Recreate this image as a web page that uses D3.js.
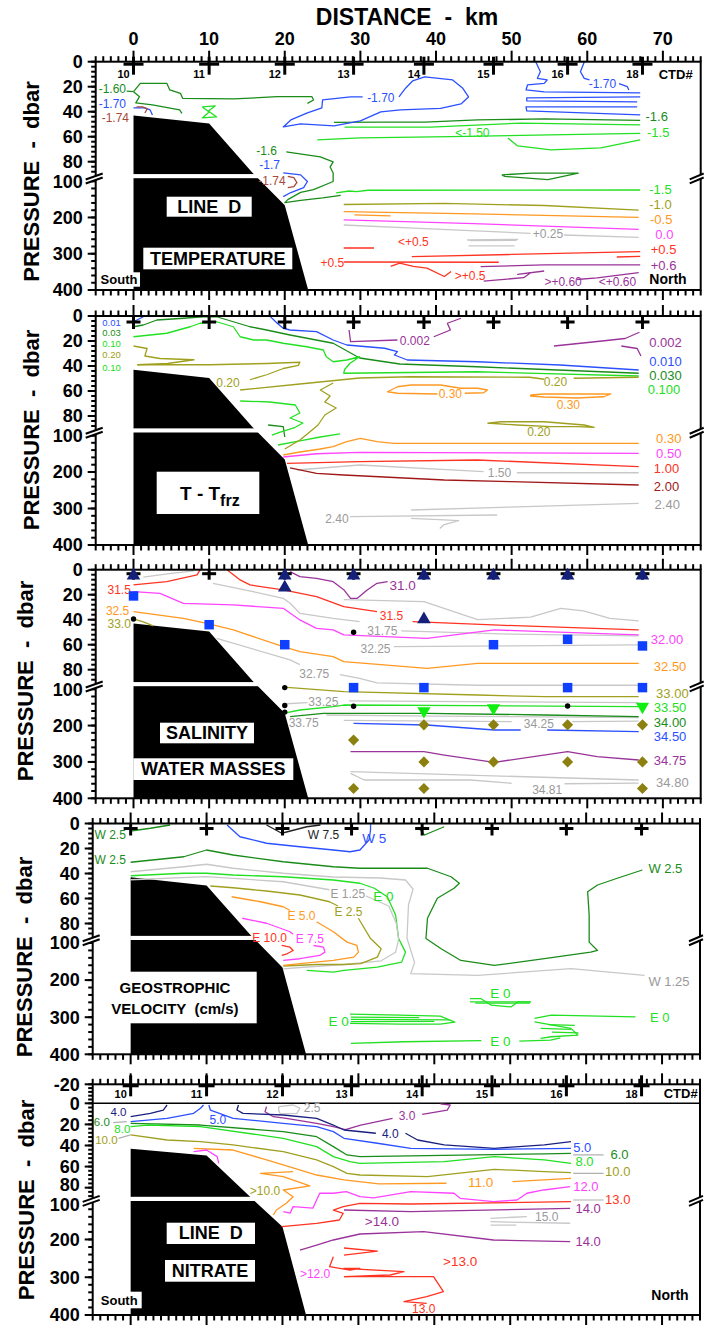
<!DOCTYPE html>
<html><head><meta charset="utf-8">
<script src="https://cdn.jsdelivr.net/npm/d3@7"></script>
<style>
html,body{margin:0;padding:0;background:#fff;}
svg{display:block;font-family:"Liberation Sans",Arial,Helvetica,sans-serif;}
</style></head><body>
<svg id="chart" width="704" height="1326"></svg>
<script>
// ================= DATA =================
const xTicks = [0,10,20,30,40,50,60,70];
const pTicks = [0,20,40,60,80,100,200,300,400];
const pTicksNitrate = [-20,0,20,40,60,80,100,200,300,400];
const stationKm = [0,10,20,29.1,38.4,47.6,57.4,67.3];
const stationIds = ["10","11","12","13","14","15","16","18"];
const terrain = [[0,43],[10,49.5],[15.7,89],[20,166],[23.1,400]];

// ---- Panel 1: temperature ----
const tempLevels = [-1.74,-1.70,-1.60,-1.50,-1.0,-0.5,0.0,0.25,0.5,0.6];
const tempLines = [
 [-1.60,[[-0.9,23.5],[0,24]]],
 [-1.60,[[0,24],[0.9,17.3],[4.4,17.3],[4.8,22.6],[6.2,25.3],[6.5,29.3],[13.2,29.8],[19,28],[23.6,28],[23.8,30.6],[23,33.3]]],
 [-1.60,[[0,24],[0.8,28],[0.3,33],[2.5,34.5],[6.1,38.6],[6.4,41.3]]],
 [-1.60,[[26.5,48.6],[32.7,48.4],[38.5,48.4],[45.5,46.6],[54.4,45.8],[67,47]]],
 [-1.60,[[20.2,72.2],[24.7,76.2],[26.4,80.2],[26,84.2],[26.4,89.6],[26.4,100.8],[23.8,123],[22.1,131],[20.4,150.7],[20,159],[22.1,153],[25,146],[27.4,139]]],
 [-1.60,[[48.7,92],[52.6,89.9],[58.8,89.9],[54.8,98],[49.1,94],[48.7,92]]],
 [-1.50,[[9.1,36.2],[10.8,35.4],[9.9,39.4],[11,44.2],[9.1,45],[10,40.2],[9.1,36.2]]],
 [-1.50,[[27.9,52.3],[39.3,52.3],[51.2,49.1],[67,50.6]]],
 [-1.50,[[24.3,62.6],[30,61],[41.9,60],[55,58.5],[67,57.3]]],
 [-1.50,[[49.5,61],[50.8,67.4],[55.2,70.6],[61.8,69],[67,62.6]]],
 [-1.50,[[26.8,132],[28.5,127],[29.5,129],[31,125],[67,124.3]]],
 [-1.70,[[35.1,28.2],[36,21],[36.9,15.4],[38.5,12.2],[42.2,14.6],[43.5,21],[44.3,28.2],[43.3,33.8],[40.6,37.3],[35.3,38.6],[32.7,40.2],[30,47.4],[26.5,51.4],[22.1,49.8],[19.8,52.2],[20.8,46.6],[23,41],[24.9,37],[25,30.6],[28.7,28.2],[30.3,28.2]]],
 [-1.70,[[53.2,0.2],[53.8,8],[53.4,13.3],[54.7,14.6],[54.3,17.3],[52.1,18.6],[51.9,22.6],[54.3,24.2],[67,25]]],
 [-1.70,[[67,28.2],[52,29],[52,31.4],[66.6,32.2]]],
 [-1.70,[[66.6,36.2],[51.9,36.2],[52,39.4],[67,42.6]]],
 [-1.70,[[59.6,0.2],[59.1,8],[59.6,13.3],[60.3,14.6]]],
 [-1.70,[[64.2,17.5],[65.3,20],[65.5,22.6]]],
 [-1.70,[[0,37],[1.5,37],[2.2,38.6],[2.5,42.6]]],
 [-1.70,[[19.8,89.6],[22.1,92],[23,100.8],[22.5,117.5],[20.8,131.3],[19.8,142.4]]],
 [-1.74,[[0.4,36.2],[1.2,36.2],[1.8,37.8],[1.5,41]]],
 [-1.74,[[20.4,94],[21.2,95.6],[21.6,103.6],[21.2,114.7],[20.4,117.5]]],
 [-1.0,[[27.8,164.2],[41.1,161.4],[54.3,167],[66.8,179.9]]],
 [-0.5,[[27.8,184.1],[45,190],[66.8,199.5]]],
 [-0.5,[[29.2,193.1],[34,195.8]]],
 [0.0,[[27.8,206.9],[45,217],[66.8,232.6]]],
 [0.25,[[27.8,220.8],[40,232],[52.5,243.6]]],
 [0.25,[[56.9,248.3],[66.8,254.7]]],
 [0.25,[[44.1,262.1],[50.8,260.2],[50.5,263],[44.5,264]]],
 [0.25,[[44.3,278.6],[50.4,278.6]]],
 [0.5,[[27.8,284.2],[31.8,284.2]]],
 [0.5,[[36.8,308.2],[50,302],[67,294.4]]],
 [0.5,[[63.9,309],[67,307.5]]],
 [0.5,[[27.8,322.8],[48.3,323.5]]],
 [0.5,[[34,335],[35.2,326],[37,335],[38.8,339.6],[41.1,362.7],[42,349]]],
 [0.6,[[45.9,335.6],[54.3,330.9],[67,330.9]]],
 [0.6,[[46.3,375.3],[51.6,366],[52.5,352.3],[50.8,356.8],[54.3,347.6]]],
 [0.6,[[58.6,371],[61.3,366.3],[66.8,352.3]]]
];
const tempLabels = [
 ["-1.60",-1.60,-2.8,22],["-1.70",-1.70,-2.8,33.8],["-1.74",-1.74,-2.4,45],
 ["-1.6",-1.60,17.6,71],["-1.7",-1.70,18,82.6],["-1.74",-1.74,18.3,99],
 ["-1.70",-1.70,32.7,29.2],["-1.70",-1.70,62,17.9],["<-1.50",-1.50,44.8,56.8],
 ["+0.25",0.25,54.8,245],["<+0.5",0.5,37,266.8],["+0.5",0.5,26.3,324],[">+0.5",0.5,44.5,361],
 [">+0.60",0.6,56.8,378],["<+0.60",0.6,64,378]
];
const tempEndLabels = [
 ["-1.6",-1.60,67.7,44],["-1.5",-1.50,67.9,56.5],["-1.5",-1.50,68.2,121.5],["-1.0",-1.0,68.2,162.9],
 ["-0.5",-0.5,68.3,204.2],["0.0",0.0,69,245.5],["+0.5",0.5,68.4,286.9],["+0.6",0.6,68.4,331]
];

// ---- Panel 2: T - Tfrz ----
const tfrzLevels = [0.002,0.01,0.03,0.10,0.20,0.30,0.50,1.00,1.50,2.00,2.40];
const tfrzLines = [
 [0.01,[[0,4.6],[1.3,0.6]]],
 [0.01,[[18.1,0.5],[19,5.8],[19.8,9.8],[20.7,11.2],[24.2,12.5],[26.4,19.2],[28.2,23.2],[33.2,25.8],[34.9,28.5],[34.5,31.2],[36.2,35.2],[45.5,36.6],[56.4,39.2],[66.8,43.2]]],
 [0.002,[[28.5,11.2],[28.7,20.5],[34.9,19.2]]],
 [0.002,[[39.7,16.6],[41.9,11.2],[41.5,5.8],[43.3,1.8]]],
 [0.002,[[55.6,24],[60.4,21],[65,18],[66.9,13]]],
 [0.002,[[64.5,24],[66.6,26],[67.1,32]]],
 [0.03,[[0,8.6],[1.3,7.2],[3.1,3.2],[6.6,1.8],[9.2,0.6],[11,0.6],[13.2,4.6],[15.4,8.6],[17.6,11.2],[20.7,15.2],[26.4,21.8],[29.9,33.6],[35.2,38.4],[45.4,40.6],[66.8,45.8]]],
 [0.03,[[17.8,87.2],[19.8,88.8],[20,104.1]]],
 [0.10,[[0,16.6],[4.4,13.8],[7.5,8.6],[8.8,5.8],[11,4.6],[13.2,8.6],[14.1,16.6],[15.9,19.2],[17.6,19.2],[19.8,21.8],[22.9,24.6],[25.1,27.2],[25.5,32.6],[26.4,36.6],[28.2,35.2],[29.9,32.6],[28.6,38],[27.9,43],[27.8,45.8],[45.4,44.6],[66.8,48]]],
 [0.10,[[14.1,68],[18,68.8],[21.4,71.2],[22,77.6],[20.7,81.6],[22.4,85.6],[21.4,89.6],[19.4,95.6],[18.3,99.4]]],
 [0.10,[[19.1,126],[22,115],[24.7,104.1],[27.3,98]]],
 [0.20,[[0,24],[1.8,26],[1.5,32],[3.5,34],[8,35],[4.5,38],[0.5,39]]],
 [0.20,[[0.5,39],[10,39],[17.6,38],[22,37],[21.8,39.5],[19.8,42],[17.6,47],[15.4,51]]],
 [0.20,[[14.1,59.2],[22,54.4],[29.9,49.6],[36.6,48.6],[52.4,49],[54.3,50.6]]],
 [0.20,[[58.2,49.8],[66.8,49]]],
 [0.20,[[26.4,53.6],[24.7,59.2],[26,64],[25.3,68.8],[26.8,73.6],[25.3,79.2],[24.4,87.2],[23.3,95.6],[22,112.3],[20,137]]],
 [0.20,[[46.8,85.8],[48.6,84.6],[54.3,84.6],[59.6,87.2],[60.9,89.6],[58.7,88.9],[55.2,88.9],[50.7,87.2],[47.2,85.8]]],
 [0.30,[[40.2,62.4],[34.9,61.8],[33.6,60.6],[34.9,56.6],[36.7,55.2],[40.6,55.2],[43.3,57.8],[45.5,57.8],[46.8,59.2],[46.3,61.4],[43.8,61.8]]],
 [0.30,[[52.5,63.2],[54.3,62.4],[63.1,62.4],[62.2,64.6],[58.6,65.6],[54.3,64.8],[52.5,64],[52.5,63.2]]],
 [0.30,[[19.8,153.4],[22,145.2],[24.7,137],[26.4,130.7],[28.2,117],[30,107.7],[32.2,117],[34.4,121.4],[66.8,121.4]]],
 [0.50,[[19.8,158.9],[24.2,150],[29.9,146],[66.8,148.8]]],
 [1.00,[[20.3,176.2],[29.9,171.8],[45.5,167.1],[66.8,185.5]]],
 [1.50,[[21.6,194.5],[29.9,180.8],[46.3,199.2]]],
 [1.50,[[50.7,202],[66.8,202]]],
 [2.00,[[20.7,189],[24.2,203.6],[27.8,208.2],[41.1,221.9],[49.9,226.6],[66.8,235.6]]],
 [2.40,[[28.6,322.5],[48.1,317.8]]],
 [2.40,[[36.7,304.1],[66.8,285.8]]],
 [2.40,[[36.7,327],[41.1,331],[43,333],[41,345],[40.5,355]]]
];
const tfrzLabels = [
 ["0.01",0.01,-2.9,5],["0.03",0.03,-2.9,13.6],["0.10",0.10,-2.9,22.2],["0.20",0.20,-2.9,30.8],["0.10",0.10,-2.9,41],
 ["0.20",0.20,12.5,53.8],["0.002",0.002,37.2,19.5],["0.30",0.30,41.9,62.4],["0.30",0.30,57.5,71.2],
 ["0.20",0.20,55.8,52.6],["0.20",0.20,53.6,95.2],["1.50",1.50,48.4,202],["2.40",2.40,26.9,326.9]
];
const tfrzEndLabels = [
 ["0.002",0.002,68.2,20.8],["0.010",0.01,68.2,36],["0.030",0.03,68.2,47.2],["0.100",0.10,68,58.8],
 ["0.30",0.30,69.1,107.7],["0.50",0.50,69.1,148.8],["1.00",1.00,68.8,189.9],["2.00",2.00,68.8,240.3],["2.40",2.40,68.9,288.5]
];

// ---- Panel 3: salinity & water masses ----
const salLevels = [31.0,31.25,31.5,31.75,32.0,32.25,32.5,32.75,33.0,33.25,33.5,33.75,34.0,34.25,34.5,34.75,34.8,34.81];
const salLines = [
 [31.0,[[20.7,1.6],[22,5.6],[24.2,6.9],[26.4,9.6],[27.8,16],[28.7,22.9],[29.6,22.9],[30.9,16.2],[32.2,10.9],[33.6,9.6]]],
 [31.25,[[27.8,24],[38.4,25.6],[45.5,40],[52.5,38],[56.5,31],[59.5,33],[63,39],[66.8,41]]],
 [31.25,[[10.5,10.9],[15.8,17.6],[19.8,22.9],[20.7,26.9],[22,34.9],[26.4,38.9],[29.9,41.6]]],
 [31.25,[[1.3,6],[5,3],[8,1]]],
 [31.5,[[0,12.2],[4.4,9.6],[8.4,4.2],[8.8,0.2]]],
 [31.5,[[12.4,0.2],[14.1,8.2],[15.4,12.2],[19.8,16.2],[24.2,21.6],[27.8,29.6],[32.2,33.6]]],
 [31.5,[[36.9,41.6],[47.5,44.2],[66.8,48.2]]],
 [31.75,[[35.4,49],[50,51.5],[66.8,53]]],
 [32.0,[[0,17.6],[3.5,18.9],[6.6,26.9],[13.2,28.2],[19.8,30.9],[22,40.2],[24.2,46.9],[26.4,48.2],[27.8,52.2],[38.8,54.9],[47.7,48.2],[66.8,52.2]]],
 [32.25,[[34.4,61.6],[50,61],[66.8,60.2]]],
 [32.5,[[0,33.6],[6.6,38.9],[9.7,42.9],[13.2,48.2],[19.8,61.6],[22,65.6],[26.4,69.6],[27.8,73.6],[38.8,78.9],[45.5,74.9],[66.8,74.9]]],
 [32.75,[[11,54.9],[20.7,72.2],[22,76]]],
 [32.75,[[27.3,84],[29.9,86.9],[32.2,92],[45.5,95],[66.8,95]]],
 [33.0,[[0,39.4],[1.3,41.8],[2.6,45]]],
 [33.0,[[20.3,97.6],[27.8,106.9],[45.5,116],[54.3,120.6],[66.8,120.6]]],
 [33.25,[[20.2,140],[23,137]]],
 [33.25,[[28.5,132],[66.8,137]]],
 [33.5,[[19.8,166.3],[22,157.2],[26.4,148.1],[27.8,143.5],[45,145],[66.8,148.1]]],
 [33.75,[[25.5,171],[40,174],[66.8,178]]],
 [34.0,[[20.7,175.6],[25.1,166.3],[27.8,166.3],[38.8,166.3],[54.3,170.9],[66.8,175.6]]],
 [34.25,[[27.8,186],[50,189]]],
 [34.25,[[58,189],[66.8,188]]],
 [34.5,[[29.1,193.8],[38.8,198.5],[47.7,212.2],[51.2,212.2]]],
 [34.5,[[54.7,212.2],[66.8,216.9]]],
 [34.75,[[28.7,271.9],[38.4,271.9],[41.1,281],[47.7,301],[57.4,271.9],[61.3,285.6],[66.8,294.7]]],
 [34.8,[[28.7,326.9],[66.8,349.7]]],
 [34.81,[[28.7,331.3],[30.5,349.7],[44.6,349.7],[50,358.8]]],
 [34.81,[[57,360],[66.8,358]]]
];
const salLabels = [
 ["31.5",31.5,-1.9,15.7],["32.5",32.5,-2.1,33],["33.0",33.0,-1.9,42.9],
 ["31.0",31.0,35.6,12.2],["31.5",31.5,34.1,36.5],["31.75",31.75,32.9,48.6],["32.25",32.25,32,63.4],
 ["32.75",32.75,23.9,83.4],["33.25",33.25,25.1,134.4],["33.75",33.75,22.5,192.1],["34.25",34.25,53.6,193.8],["34.81",34.81,54.7,376.7]
];
const salEndLabels = [
 ["32.00",32.0,68.4,55.7],["32.50",32.5,68.8,77.6],["33.00",33.0,69.1,110.5],["33.50",33.5,68.8,150.4],
 ["34.00",34.0,68.8,190.3],["34.50",34.5,68.8,230.1],["34.75",34.75,68.8,296.6],["34.80",34.8,69.1,357]
];
const salTriTop = [[0,4],[20,4],[29.1,4],[38.4,4],[47.6,4],[57.4,4],[67.3,4],[20,13.6],[38.4,38.9]];
const salSquares = [[0,21],[10,44],[20,60],[47.6,60],[57.4,55.7],[67.3,61],[29.1,98],[38.4,98],[57.4,98],[67.3,98]];
const salTriDown = [[38.4,160],[47.6,152],[67.3,148]];
const salDots = [[0,39.4],[20,98],[20,145],[20,163],[29.1,50],[29.1,147],[57.4,146]];
const salDiamonds = [[29.1,240],[29.1,373],[38.4,198],[38.4,300],[38.4,373],[47.6,198],[47.6,300],[57.4,198],[57.4,300],[67.3,198],[67.3,300],[67.3,373]];

// ---- Panel 4: geostrophic velocity (W negative, E positive) ----
const velLevels = [-7.5,-5,-2.5,-1.25,0,1.25,2.5,5,7.5,10];
const velLines = [
 [-2.5,[[0,6],[2.6,3.8],[5.2,1.2]]],
 [-2.5,[[0,31],[7,26.6],[10,21.2],[13.5,25.2],[20.1,30.6],[26.7,34.6],[30.2,35.8],[39.1,35.8],[42.2,42.6],[43.3,47.8],[42.6,51.8],[40.4,59.8],[39.1,75.8],[38.9,94.4],[40.9,115.6],[43.5,147],[47.9,160.4],[54.5,142.4],[60.6,124.7],[61.5,120.1],[60.4,98.9],[60.4,73.2],[60.2,54.6],[61.5,49.2],[64.1,43.8],[67.4,37.2]]],
 [-2.5,[[38,3.8],[38.7,9.2],[41.3,2.6]]],
 [-1.25,[[0,38.6],[7,34.6],[10,32.6],[13.5,35.8],[20.1,39.8],[26.7,42.8],[32.9,43.6],[36.2,45.2],[37.2,52.4],[36.6,65.2],[36.4,94],[37.4,152.3],[36.9,182.6],[45.7,187.2],[58,169.2],[67.7,187.2]]],
 [0,[[0,41.8],[7,39.8],[10,39.8],[13.5,41.2],[20.1,42.6],[26.7,45.2],[30.2,47.8],[32.1,51.8],[33.8,58.6],[34.9,73.2],[35.3,94.4],[36.2,124.7],[35.7,151.5],[32.5,164.9],[28.1,173.8],[26.7,178.3],[23.2,173.8]]],
 [1.25,[[0,45],[10,42.5],[20.1,46.6],[26.2,53]]],
 [1.25,[[31,58],[34,66],[35,80],[35.3,95],[34.9,125],[33,148],[28.1,158],[22.3,166],[20.1,170]]],
 [2.5,[[10.5,50],[13.5,51.4],[17.9,54],[22.3,57.2],[26.2,62.6],[27.3,66]]],
 [2.5,[[30,75.8],[31.6,94.4],[33,115.6],[32.5,138.1],[30.3,155.8],[28.1,158],[24.5,158],[20.1,162]]],
 [5,[[13.3,58.6],[17.1,62.6],[20.1,66.6],[21,69.6]]],
 [5,[[24.5,78.6],[26.7,86.6],[28.5,98.9],[29.8,106.7],[30,124.7],[29.4,138.1],[26.7,147],[22.3,155.8],[20.1,160.4]]],
 [7.5,[[14.7,75.8],[17.9,79.8],[21,86.6],[21.4,89]]],
 [7.5,[[24.1,106.7],[25.4,111.3],[25.6,124.7],[24.9,133.5],[22.3,142.4],[20.1,147]]],
 [10,[[19.9,106.7],[21,111.3],[21.4,120.1],[20.6,129],[19.9,133.5]]],
 [-5,[[12.7,1.2],[14.4,10.6],[17.9,15.8],[22.3,18.6],[26.7,21.2],[28.9,22.6],[30.2,21.2],[31.4,13.2],[31.6,5.2],[31.6,0.5]]],
 [-7.5,[[17.9,1.2],[19.9,7.8],[23.2,2.6],[25,1.2]]],
 [0,[[44.7,250],[46.1,249.7],[47.5,267.7],[50.1,272.3],[51,258.8],[52.7,258.8]]],
 [0,[[44.7,258.8],[52.7,258.8]]],[0,[[45.4,262.3],[52.6,262.3]]],
 [0,[[28.9,291.8],[35.5,294.5],[40.8,297.2],[42.7,313.3],[40.8,318.7],[35.5,318.7],[28.9,316.8]]],
 [0,[[29,300],[38,301]]],[0,[[29,306],[42,307]]],[0,[[29,312],[40,311]]],
 [0,[[29,370.4],[36,366.2],[46.2,363]]],
 [0,[[51.2,364.3],[55.3,361.6],[56.6,356]]],
 [0,[[53.2,303.4],[55.4,294.5],[66.5,299.1]]],
 [0,[[53.2,312.5],[58,330.2],[58.9,348.2],[55.4,352.7],[54,357]]],
 [0,[[55,320],[58.5,322]]],[0,[[54,330],[58,333]]],[0,[[55.5,340],[59,342]]]
];
const velLabels = [
 ["W 2.5",-2.5,-2.7,9.2],["W 2.5",-2.5,-2.7,29.2],["W 7.5",-7.5,25.4,9],["W 5",-5,32.1,11.8],
 ["E 1.25",1.25,28.6,56.6],["E 2.5",2.5,28.7,70.6],["E 0",0,33.3,58.6],["E 5.0",5,22.5,73.8],
 ["E 7.5",7.5,23.6,94.1],["E 10.0",10,18.3,93.4],
 ["E 0",0,48.7,235.6],["E 0",0,27.4,310.2],["E 0",0,48.7,366]
];
const velEndLabels = [["W 2.5",-2.5,68.2,35.8],["W 1.25",-1.25,68.2,202.5],["E 0",0,68.4,300.2]];

// ---- Panel 5: nitrate ----
const nitLevels = [2.5,3,4,5,6,8,10,11,12,13,14,15];
const nitLines = [
 [2.5,[[19.5,3.2],[21.4,1.6],[22.3,4.7],[21.9,9.5],[19.7,10.1],[19.5,6.4],[19.5,3.2]]],
 [3,[[17.9,3.2],[17.7,8],[18.8,12.7],[20.5,14.2],[24.5,19],[26.7,22.2],[28.3,25],[30.3,20.6],[32.5,17.4],[34.5,14.2]]],
 [3,[[38.4,10.5],[41.7,6.4],[42.1,1.6],[40.8,0.5]]],
 [4,[[0,12.7],[2.6,9.5],[4.3,6.4],[4.8,1.6]]],
 [4,[[14.2,1.6],[14,6.4],[14.8,9.5],[20.1,11.1],[24.5,14.2],[26.7,20.6],[28.1,25.3],[32.3,28.4]]],
 [4,[[36.2,28.4],[37.8,34.8],[41.3,39.5],[47.9,42.7],[54.5,39.5],[58,36.4]]],
 [5,[[0,17.4],[4.8,14.2],[8.3,9.5],[9.2,4.7],[9.6,1.6]]],
 [5,[[10.3,1.6],[10.5,6.4],[13.5,14.2],[20.1,19],[24.5,22.2],[26.7,26.9],[28.1,33.2],[32.5,37.9],[36.9,42.7],[47.9,43.6],[58,42.7]]],
 [6,[[0,19],[9.2,20.6],[20.1,26.9],[24.5,31.7],[26.7,41.1],[28.5,49],[30.2,50.6],[54.5,48],[58,47.4]]],
 [8,[[0,22.2],[2.2,20.6],[9.2,22.2],[20.1,33.2],[24.5,41.1],[26.7,50.6],[28.9,55.4],[30.2,56.9],[41.3,55.4],[47.9,50.6],[54.5,53.7],[58,56.9]]],
 [10,[[0,30],[4.8,34.8],[9.2,36.4],[13.5,39.5],[20.1,45.9],[24.5,53.7],[26.7,60.1],[28.5,66.4],[30.2,68],[39.1,69.6],[47.9,62.6],[54.5,64.8],[58,65.8]]],
 [11,[[8.3,42.7],[13.5,44.3],[17.9,53.7],[20.1,58.5],[24.5,68],[28.1,72.7],[32.7,76.5],[41.6,75.8]]],
 [11,[[50.3,74.3],[58,71.1]]],
 [11,[[21.4,64.8],[17.1,66.4],[20.1,69.6],[23.6,78.4],[20.1,82.2],[21.4,89.3],[20.5,104.2],[19.2,122],[18.8,135.2]]],
 [12,[[8.3,45.9],[10,44.3],[11.4,50.6],[11.6,56.9]]],
 [12,[[20.1,126.2],[21,130.4],[21.4,113],[24,117.2],[24.9,85.3],[26.7,85.3],[28.4,83.8],[30.2,89.3],[32,92],[36.9,83.8],[42.6,85.3],[43.4,92.7],[47.8,100],[50.9,96.4],[52.2,85.3],[54.4,82.2],[57.9,79.1]]],
 [13,[[19.9,166.2],[24.5,157.2],[27.5,148.5],[28,130.7],[26.7,122],[28,113.3],[30.2,104.2],[36.9,106.1],[58,100]]],
 [14,[[28.1,122],[36.9,126.5],[57.9,117.5]]],
 [14,[[22.3,227.9],[24.5,214.7],[26.7,201.4],[30.2,185.5],[38.6,179.4],[47.8,201.4],[57.9,205.9]]],
 [15,[[47.4,143.9],[52.2,139.6]]],
 [15,[[47.4,152.9],[57.9,157.1]]],
 [15,[[47.4,161.8],[50.8,161.8]]],
 [13,[[28.1,222.6],[32.5,230.6],[28.1,241.2]]],
 [13,[[26.7,245.6],[26.2,272.1],[28.9,280.9],[30.2,276.4],[28.1,276.4],[36,285.4],[34.2,294.1],[28.1,298.6]]],
 [13,[[28.1,298.6],[39.9,298.6],[41.2,338.3],[39,351.6],[36,364.8],[39,369]]]
];
const nitLeaders = [[[-2.3,18.4],[-0.5,17.4]],[[-1.6,33.2],[0,30]],[[58.3,49],[62.3,49]],[[58.3,66.4],[62.3,66.4]],[[58.3,96.4],[62.3,96.4]]];
const nitLabels = [
 ["4.0",4,-1.6,8.5],["6.0",6,-3.8,17.4],["8.0",8,-1.1,23.9],["10.0",10,-3.2,34.8],["5.0",5,11.5,15.2],
 [">10.0",10,17.7,82.8],["4.0",4,34.2,29.1],["3.0",3,36.4,12],["2.5",2.5,23.9,4.5],["11.0",11,46.1,75.3],
 ["15.0",15,54.8,141.3],[">14.0",14,33.1,151.1],[">13.0",13,43.4,258.9],["13.0",13,38.6,382.3],[">12.0",12,24.3,289.6]
];
const nitEndLabels = [
 ["5.0",5,58.3,41.7],["6.0",6,63.2,48.3],["8.0",8,58.6,55.4],["10.0",10,62.5,64.8],
 ["12.0",12,58.3,79],["13.0",13,62.5,94.9],["14.0",14,58.6,117.5],["14.0",14,58.6,204]
];

// ================= STYLE / LAYOUT =================
const COL = {dg:"#1a8c1a", lg:"#22e022", bl:"#2b50ff", nv:"#1a2080", br:"#a8483a", ol:"#a0a020", or:"#ff9922",
  mg:"#ff44ff", gy:"#c8c8c8", rd:"#ff3322", dr:"#a01818", pu:"#993399", bk:"#222222"};
const tempPalette = [COL.br,COL.bl,COL.dg,COL.lg,COL.ol,COL.or,COL.mg,COL.gy,COL.rd,COL.pu];
const tfrzPalette = [COL.pu,COL.bl,COL.dg,COL.lg,COL.ol,COL.or,COL.mg,COL.rd,COL.gy,COL.dr,COL.gy];
const salPalette = [COL.pu,COL.gy,COL.rd,COL.gy,COL.mg,COL.gy,COL.or,COL.gy,COL.ol,COL.gy,COL.lg,COL.gy,COL.dg,COL.gy,COL.bl,COL.pu,COL.gy,COL.gy];
const velPalette = [COL.bk,COL.bl,COL.dg,COL.gy,COL.lg,COL.gy,COL.ol,COL.or,COL.mg,COL.rd];
const nitPalette = [COL.gy,COL.pu,COL.nv,COL.bl,COL.dg,COL.lg,COL.ol,COL.or,COL.mg,COL.rd,COL.pu,COL.gy];

const layouts = [
 {top:61.7, h:228.3, left:95.7, right:700.7, ext:false, cross:{hy:2.5,hw:10,v0:-5,v1:13}, pl:{x:31.5,y:181.5}, leftSize:12},
 {top:316, h:229, left:95.7, right:700.7, ext:false, cross:{hy:6,hw:7,v0:0,v1:13}, pl:{x:31,y:430}, leftSize:9.5},
 {top:569.7, h:228.6, left:95.7, right:700.7, ext:false, cross:{hy:4,hw:7,v0:0,v1:10}, pl:{x:25.5,y:681}, leftSize:12},
 {top:823.5, h:230.8, left:92.7, right:700, ext:false, cross:{hy:5,hw:7,v0:0,v1:12}, pl:{x:24.5,y:957}, leftSize:12},
 {top:1084.3, h:230.7, left:92.7, right:700, ext:true, cross:{hy:1.5,hw:8,v0:-9,v1:12}, pl:{x:26,y:1200}, leftSize:11.5}
];
const bigInline = new Set(["2|31.0","3|W 5","3|E 0","4|>14.0","4|>13.0","4|11.0"]);

const svg = d3.select("#chart");
svg.append("rect").attr("width",704).attr("height",1326).attr("fill","#fff");

function scalesFor(L){
  const x = d3.scaleLinear().domain([-5,75]).range([L.left,L.right]);
  const y = L.ext
    ? d3.scaleLinear().domain([-20,0,88,100,400]).range([L.top,L.top+19,L.top+111.8,L.top+117.4,L.top+L.h])
    : d3.scaleLinear().domain([0,88,100,400]).range([L.top,L.top+110,L.top+119.5,L.top+L.h]);
  return {x,y};
}

function textAt(g, t, x, y, o){
  return g.append("text").attr("x",x).attr("y",y).attr("dy","0.35em")
    .attr("text-anchor",o.anchor||"middle").attr("font-size",o.size||12)
    .attr("font-weight",o.bold?"bold":"normal").attr("fill",o.fill||"#000").text(t);
}

function drawPanel(i, levels, palette, lines, labels, endLabels){
  const L = layouts[i];
  const {x,y} = scalesFor(L);
  const color = d3.scaleOrdinal().domain(levels).range(palette);
  const lblColor = v => { const c = color(v); return c===COL.gy ? "#9a9a9a" : c; };
  const g = svg.append("g");
  const clipId = "clip"+i;
  svg.append("clipPath").attr("id",clipId).append("rect")
    .attr("x",L.left).attr("y",L.top).attr("width",L.right-L.left).attr("height",L.h);
  const line = d3.line().x(d=>x(d[0])).y(d=>y(d[1]));

  g.append("path").attr("d", line(terrain.concat([[0,400]]))+"Z").attr("fill","#000");
  const b0 = L.ext?89.5:91, b1 = L.ext?98.5:96.2;
  g.append("rect").attr("x",x(0)-0.5).attr("y",y(b0)).attr("width",x(16.6)-x(0)+0.5)
    .attr("height",y(b1)-y(b0)).attr("fill","#fff");
  if (L.ext) {
    g.append("line").attr("x1",L.left).attr("x2",L.right).attr("y1",y(0)).attr("y2",y(0))
      .attr("stroke","#000").attr("stroke-width",1.5);
  }

  const cg = g.append("g").attr("clip-path",`url(#${clipId})`);
  cg.selectAll("path.c").data(lines).join("path").attr("class","c")
    .attr("d", d=>line(d[1])).attr("fill","none")
    .attr("stroke", d=>color(d[0])).attr("stroke-width",1.3).attr("stroke-linejoin","round");

  labels.forEach(l=>{
    const big = bigInline.has(i+"|"+l[0]);
    const sz = l[2] < 0 ? L.leftSize : (big ? 13.5 : 12);
    textAt(g, l[0], x(l[2]), y(l[3]), {size:sz, fill:lblColor(l[1])});
  });
  endLabels.forEach(l=>{
    textAt(g, l[0], x(l[2]), y(l[3]), {size:13, anchor:"start", fill:lblColor(l[1])});
  });
  return {g,x,y,L,cg,line};
}

function drawFrame(P){
  const {g,x,y,L} = P;
  g.append("rect").attr("x",L.left).attr("y",L.top).attr("width",L.right-L.left).attr("height",L.h)
    .attr("fill","none").attr("stroke","#000").attr("stroke-width",2);
  d3.range(-5,76,1).forEach(k=>{
    const major = k%10===0;
    const xx = x(k);
    g.append("line").attr("x1",xx).attr("x2",xx).attr("y1",L.top).attr("y2",L.top-(major?11:5.5))
      .attr("stroke","#000").attr("stroke-width",2);
    g.append("line").attr("x1",xx).attr("x2",xx).attr("y1",L.top+L.h).attr("y2",L.top+L.h+(major?10:5.5))
      .attr("stroke","#000").attr("stroke-width",2);
  });
  const ticks = L.ext ? pTicksNitrate : pTicks;
  const minors = d3.range(L.ext?-20:0, 89, 4).concat(d3.range(100,401,20));
  minors.forEach(p=>{
    g.append("line").attr("x1",L.left).attr("x2",L.left-4.5).attr("y1",y(p)).attr("y2",y(p))
      .attr("stroke","#000").attr("stroke-width",2);
  });
  ticks.forEach(p=>{
    g.append("line").attr("x1",L.left).attr("x2",L.left-8).attr("y1",y(p)).attr("y2",y(p))
      .attr("stroke","#000").attr("stroke-width",2);
    const nudge = L.ext ? (p===80 ? -2.5 : (p===100 ? 2.5 : 0)) : 0;
    textAt(g, String(p), L.left-13, y(p)+nudge, {size:18, bold:true, anchor:"end"});
  });
  const yb = y(94);
  [[L.left-10, L.left+7],[L.right-11, L.right+3]].forEach(([a,b])=>{
    g.append("path").attr("d",`M${a},${yb+3}L${b},${yb-3}L${b},${yb+1}L${a},${yb+7}Z`).attr("fill","#fff");
    g.append("path").attr("d",`M${a},${yb+3}L${b},${yb-3}M${a},${yb+7}L${b},${yb+1}`)
      .attr("stroke","#000").attr("stroke-width",2).attr("fill","none");
  });
  const c = L.cross;
  stationKm.forEach(k=>{
    const xx = x(k);
    g.append("line").attr("x1",xx).attr("x2",xx).attr("y1",L.top+c.v0).attr("y2",L.top+c.v1)
      .attr("stroke","#000").attr("stroke-width",3);
    g.append("line").attr("x1",xx-c.hw).attr("x2",xx+c.hw).attr("y1",L.top+c.hy).attr("y2",L.top+c.hy)
      .attr("stroke","#000").attr("stroke-width",3);
  });
  g.append("text").attr("transform",`translate(${L.pl.x},${L.pl.y}) rotate(-90)`).attr("dy","0.35em")
    .attr("text-anchor","middle").attr("font-size",22).attr("font-weight","bold").attr("xml:space","preserve")
    .text("PRESSURE  -  dbar");
}

function box(g, x0, y0, x1, y1){
  g.append("rect").attr("x",x0).attr("y",y0).attr("width",x1-x0).attr("height",y1-y0).attr("fill","#fff");
}

{
  const {x} = scalesFor(layouts[0]);
  svg.append("text").attr("x",407).attr("y",25).attr("text-anchor","middle").attr("font-size",23)
    .attr("font-weight","bold").attr("xml:space","preserve").text("DISTANCE  -  km");
  xTicks.forEach(k=>{
    svg.append("text").attr("x",x(k)).attr("y",45).attr("text-anchor","middle").attr("font-size",18)
      .attr("font-weight","bold").text(k);
  });
}

{
  const P = drawPanel(0, tempLevels, tempPalette, tempLines, tempLabels, tempEndLabels);
  const {g,x,L} = P;
  box(g,166.7,196.7,251.7,216.7); textAt(g,"LINE  D",209.2,207,{size:18,bold:true}).attr("xml:space","preserve");
  box(g,143.3,247.7,292.3,269.3); textAt(g,"TEMPERATURE",217.8,258.5,{size:18,bold:true});
  box(g,98,272.3,140,286.7); textAt(g,"South",119,279.5,{size:13,bold:true});
  textAt(g,"North",668,279,{size:14,bold:true});
  textAt(g,"CTD#",675.7,74,{size:13,bold:true});
  stationKm.forEach((k,j)=>textAt(g,stationIds[j],x(k)-10,L.top+12,{size:11,bold:true}));
  drawFrame(P);
}

{
  const P = drawPanel(1, tfrzLevels, tfrzPalette, tfrzLines, tfrzLabels, tfrzEndLabels);
  const {g} = P;
  box(g,156.7,471.7,259.3,514);
  const t = g.append("text").attr("x",180).attr("y",500).attr("font-size",19).attr("font-weight","bold").attr("xml:space","preserve");
  t.append("tspan").text("T - T");
  t.append("tspan").attr("dy",6).attr("font-size",16).text("frz");
  drawFrame(P);
}

{
  const P = drawPanel(2, salLevels, salPalette, salLines, salLabels, salEndLabels);
  const {g,x,y} = P;
  const sym = (type,size)=>d3.symbol().type(type).size(size)();
  g.selectAll("path.sq").data(salSquares).join("path").attr("class","sq")
    .attr("d",sym(d3.symbolSquare,90)).attr("transform",d=>`translate(${x(d[0])},${y(d[1])})`).attr("fill","#1040ff");
  g.selectAll("path.td").data(salTriDown).join("path").attr("class","td")
    .attr("d",sym(d3.symbolTriangle,75)).attr("transform",d=>`translate(${x(d[0])},${y(d[1])}) rotate(180)`).attr("fill","#11ee11");
  g.selectAll("path.dm").data(salDiamonds).join("path").attr("class","dm")
    .attr("d",sym(d3.symbolSquare,62)).attr("transform",d=>`translate(${x(d[0])},${y(d[1])}) rotate(45)`).attr("fill","#8c8010");
  g.selectAll("circle.dot").data(salDots).join("circle").attr("class","dot")
    .attr("cx",d=>x(d[0])).attr("cy",d=>y(d[1])).attr("r",2.7).attr("fill","#000");
  box(g,160,722.7,254,743.3); textAt(g,"SALINITY",207,733,{size:18,bold:true});
  box(g,133.3,758.3,293.3,780); textAt(g,"WATER MASSES",213.3,769,{size:18,bold:true});
  drawFrame(P);
  g.selectAll("path.tu").data(salTriTop).join("path").attr("class","tu")
    .attr("d",sym(d3.symbolTriangle,80)).attr("transform",d=>`translate(${x(d[0])},${y(d[1])+1})`).attr("fill","#14207a");
}

{
  const P = drawPanel(3, velLevels, velPalette, velLines, velLabels, velEndLabels);
  const {g,L} = P;
  box(g,L.left+1,971.7,256.7,1023.3);
  textAt(g,"GEOSTROPHIC",175,987.7,{size:15,bold:true});
  textAt(g,"VELOCITY  (cm/s)",175,1009,{size:15,bold:true}).attr("xml:space","preserve");
  drawFrame(P);
}

{
  const P = drawPanel(4, nitLevels, nitPalette, nitLines, nitLabels, nitEndLabels);
  const {g,x,L,cg,line} = P;
  cg.selectAll("path.ld").data(nitLeaders).join("path").attr("class","ld")
    .attr("d",d=>line(d)).attr("fill","none").attr("stroke","#b0b0b0").attr("stroke-width",1.2);
  box(g,166.7,1222.7,255,1244); textAt(g,"LINE  D",210.8,1233,{size:18,bold:true}).attr("xml:space","preserve");
  box(g,165,1260,255,1281.7); textAt(g,"NITRATE",210,1271,{size:18,bold:true});
  box(g,96.7,1291.7,141.7,1308.3); textAt(g,"South",119.2,1300,{size:13,bold:true});
  textAt(g,"North",670,1295,{size:14,bold:true});
  textAt(g,"CTD#",680.7,1093.5,{size:13,bold:true});
  stationKm.forEach((k,j)=>textAt(g,stationIds[j],x(k)-10,L.top+9.5,{size:11,bold:true}));
  drawFrame(P);
}
</script></body></html>
